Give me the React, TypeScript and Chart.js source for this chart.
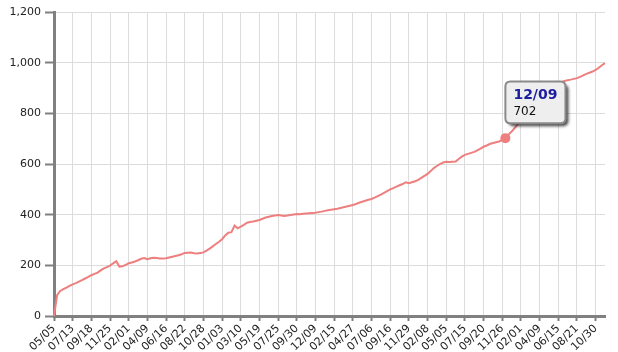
import React, { useEffect, useRef } from 'react';
import { Chart, registerables, Tooltip } from 'chart.js';

Chart.register(...registerables);

const tickLabels = [
  '05/05', '07/13', '09/18', '11/25', '02/01', '04/09', '06/16', '08/22', '10/28', '01/03',
  '03/10', '05/19', '07/25', '09/30', '12/09', '02/15', '04/27', '07/06', '09/16', '11/29',
  '02/08', '05/05', '07/15', '09/20', '11/26', '02/01', '04/09', '06/15', '08/21', '10/30',
];

const pointsPerTick = 6;

const values = [
  0, 82, 99, 106, 112, 119, 125, 130, 136, 142, 148, 154, 161, 166, 171, 180, 188, 193,
  199, 208, 216, 195, 196, 202, 208, 211, 215, 220, 226, 229, 224, 228, 230, 229, 227, 227,
  228, 231, 234, 237, 240, 244, 249, 250, 251, 248, 247, 249, 251, 258, 266, 275, 284, 293,
  303, 318, 329, 331, 357, 346, 353, 360, 368, 371, 373, 376, 379, 384, 389, 392, 395, 397,
  399, 397, 395, 397, 399, 401, 403, 402, 404, 405, 406, 407, 408, 410, 412, 415, 417, 419,
  421, 423, 426, 429, 432, 435, 438, 442, 447, 451, 455, 459, 462, 467, 473, 479, 486, 493,
  500, 505, 511, 516, 521, 528, 524, 528, 532, 537, 545, 553, 561, 572, 584, 592, 600, 606,
  609, 608, 609, 610, 620, 629, 636, 640, 644, 648, 654, 661, 668, 673, 679, 683, 686, 689,
  695, 702, 716, 728, 742, 757, 768, 782, 796, 810, 824, 838, 850, 862, 874, 886, 898, 908,
  917, 924, 928, 931, 933, 936, 939, 944, 950, 956, 960, 965, 971, 980, 990, 998,
];

const highlightIndex = 145;
const highlightLabel = '12/09';

const categories = values.map((_, i) =>
  i === highlightIndex ? highlightLabel : i % pointsPerTick === 0 ? tickLabels[i / pointsPerTick] : ''
);

const FONT = 'DejaVu Sans, Verdana, sans-serif';
const LINE_COLOR = '#ee7f7f';
const AXIS_COLOR = '#808080';
const GRID_COLOR = '#dcdcdc';

(Tooltip.positioners as any).aboveRight = function (elements: any[]) {
  if (!elements.length) return false;
  const el = elements[0].element;
  return { x: el.x + 5, y: el.y - 15 };
};

const tooltipShadow = {
  id: 'tooltipShadow',
  beforeTooltipDraw(chart: any, args: any) {
    const tt = args.tooltip;
    if (!tt || !tt.opacity) return;
    const ctx = chart.ctx;
    ctx.save();
    ctx.shadowColor = 'rgba(0,0,0,0.7)';
    ctx.shadowBlur = 3;
    ctx.shadowOffsetX = 3;
    ctx.shadowOffsetY = 3;
    ctx.fillStyle = '#eeeeee';
    ctx.beginPath();
    ctx.roundRect(tt.x, tt.y, tt.width, tt.height, 5);
    ctx.fill();
    ctx.restore();
  },
};

export default function App() {
  const canvasRef = useRef<HTMLCanvasElement | null>(null);

  useEffect(() => {
    if (!canvasRef.current) return;
    const chart = new Chart(canvasRef.current, {
      type: 'line',
      data: {
        labels: categories,
        datasets: [
          {
            data: values,
            borderColor: LINE_COLOR,
            backgroundColor: LINE_COLOR,
            borderWidth: 2,
            tension: 0,
            fill: false,
            pointRadius: (ctx: any) => (ctx.dataIndex === highlightIndex ? 5 : 0),
            pointHoverRadius: (ctx: any) => (ctx.dataIndex === highlightIndex ? 5 : 0),
            pointBackgroundColor: LINE_COLOR,
            pointBorderWidth: 0,
            pointHoverBorderWidth: 0,
            pointHoverBackgroundColor: LINE_COLOR,
          },
        ],
      },
      options: {
        animation: false,
        responsive: true,
        maintainAspectRatio: false,
        events: [],
        layout: { padding: { top: 12, right: 13, left: 0, bottom: 0 } },
        plugins: {
          legend: { display: false },
          title: { display: false },
          tooltip: {
            enabled: true,
            position: 'aboveRight' as any,
            xAlign: 'left',
            yAlign: 'bottom',
            caretSize: 0,
            caretPadding: 0,
            cornerRadius: 5,
            backgroundColor: '#eeeeee',
            borderColor: '#8a8a8a',
            borderWidth: 2,
            displayColors: false,
            padding: { top: 6, bottom: 5, left: 8, right: 8 },
            titleMarginBottom: 2,
            titleColor: '#1c1c9e',
            titleFont: { family: FONT, size: 14, weight: 'bold', lineHeight: 1.1 },
            bodyColor: '#111111',
            bodyFont: { family: FONT, size: 12, lineHeight: 1.1 },
            callbacks: {
              title: () => highlightLabel,
              label: (ctx: any) => String(ctx.parsed.y),
            },
          },
        },
        scales: {
          x: {
            type: 'category',
            afterBuildTicks: (scale: any) => {
              scale.ticks = scale.ticks.filter((t: any) => t.value % pointsPerTick === 0);
            },
            afterFit: (scale: any) => {
              scale.height = 36;
            },
            ticks: {
              autoSkip: false,
              maxRotation: 45,
              minRotation: 45,
              padding: 1,
              color: '#222222',
              font: { family: FONT, size: 11 },
              callback: (_v: any, i: number) => tickLabels[i],
            },
            grid: {
              color: GRID_COLOR,
              lineWidth: 1,
              tickColor: AXIS_COLOR,
              tickLength: 5,
              tickWidth: 2,
            },
            border: { color: AXIS_COLOR, width: 3 },
          },
          y: {
            min: 0,
            max: 1200,
            afterFit: (scale: any) => {
              scale.width = 54;
            },
            ticks: {
              stepSize: 200,
              padding: 4,
              color: '#222222',
              font: { family: FONT, size: 11 },
            },
            grid: {
              color: GRID_COLOR,
              lineWidth: 1,
              tickColor: AXIS_COLOR,
              tickLength: 9,
              tickWidth: 2,
            },
            border: { color: AXIS_COLOR, width: 3 },
          },
        },
      },
      plugins: [tooltipShadow],
    });

    const active = [{ datasetIndex: 0, index: highlightIndex }];
    chart.setActiveElements(active);
    chart.tooltip?.setActiveElements(active, { x: 0, y: 0 });
    chart.update();

    return () => chart.destroy();
  }, []);

  return (
    <div style={{ position: 'absolute', left: 0, top: 0, width: 618, height: 352 }}>
      <canvas ref={canvasRef} />
    </div>
  );
}
